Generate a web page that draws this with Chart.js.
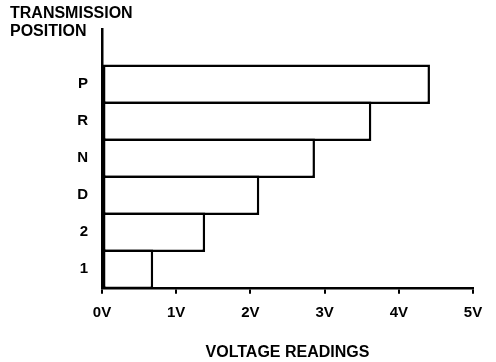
<!DOCTYPE html>
<html>
<head>
<meta charset="utf-8">
<script src="https://cdn.jsdelivr.net/npm/chart.js@4/dist/chart.umd.min.js"></script>
<style>
  html, body { margin: 0; padding: 0; background: #fff; }
  #wrap { width: 496px; height: 362px; }
</style>
</head>
<body>
<div id="wrap"><canvas id="voltChart"></canvas></div>
<script>
'use strict';
// blank first slot leaves the empty space above P
const positions = ['', 'P', 'R', 'N', 'D', '2', '1']
const voltages = [null, 4.42, 3.63, 2.87, 2.12, 1.39, 0.69]
const voltTicks = ['0V', '1V', '2V', '3V', '4V', '5V']

const fontFam = "'Liberation Sans', Arial, sans-serif"
const ctx = document.getElementById('voltChart')

const voltChart = new Chart(ctx, {
  type: 'bar',
  data: {
    labels: positions,
    datasets: [{
      data: voltages,
      backgroundColor: '#fff',
      borderColor: '#000',
      borderWidth: 2.5,
      borderSkipped: false,
      // bars overlap by one border width so neighbours share a single line
      barPercentage: 1.068,
      categoryPercentage: 1
    }]
  },
  options: {
    indexAxis: 'y',
    responsive: true,
    maintainAspectRatio: false,
    animation: false,
    layout: {
      padding: { left: 10, right: 23, top: 0, bottom: 0 }
    },
    plugins: {
      legend: { display: false },
      tooltip: { enabled: false },
      title: {
        display: true,
        text: ['TRANSMISSION', 'POSITION'],
        align: 'start',
        color: '#000',
        font: { family: fontFam, size: 16, weight: 'bold', lineHeight: 1.15 },
        padding: { top: 4, bottom: -12 }
      }
    },
    scales: {
      x: {
        min: 0,
        max: 5,
        ticks: {
          stepSize: 1,
          color: '#000',
          padding: 10,
          font: { family: fontFam, size: 15, weight: 'bold' },
          callback: (val, idx) => voltTicks[idx]
        },
        grid: {
          display: true,
          drawOnChartArea: false,
          drawTicks: true,
          tickLength: 6,
          color: '#000',
          lineWidth: 2
        },
        border: { display: true, color: '#000', width: 2.5 },
        title: {
          display: true,
          text: 'VOLTAGE READINGS',
          color: '#000',
          font: { family: fontFam, size: 16, weight: 'bold' },
          padding: { top: 11, bottom: 0 }
        }
      },
      y: {
        grid: { display: false },
        border: { display: true, color: '#000', width: 2.5 },
        ticks: {
          color: '#000',
          padding: 6,
          font: { family: fontFam, size: 15, weight: 'bold' }
        },
        afterFit: (scale) => { scale.width = 92 }
      }
    }
  }
});
</script>
</body>
</html>
